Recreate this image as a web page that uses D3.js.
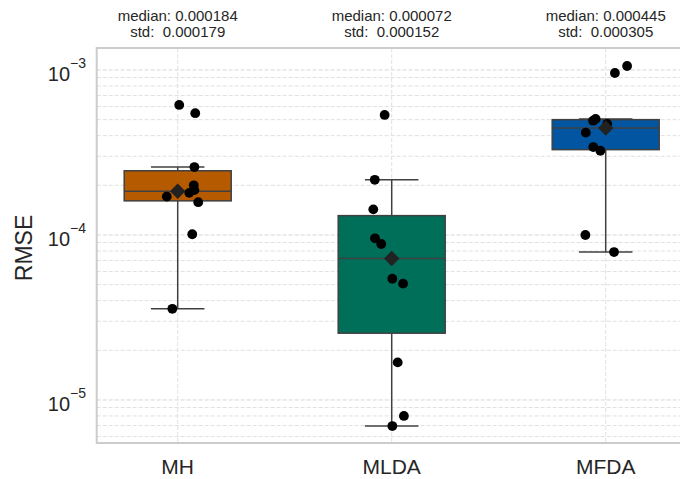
<!DOCTYPE html>
<html>
<head>
<meta charset="utf-8">
<script src="https://cdn.jsdelivr.net/npm/d3@7"></script>
<style>
  body { margin: 0; background: #fff; }
  svg { display: block; font-family: "Liberation Sans", Arial, sans-serif; }
  .pre { white-space: pre; }
</style>
</head>
<body>
<svg id="chart" width="680" height="479"></svg>
<script>
// Methods compared
const categories = ["MH", "MLDA", "MFDA"];
const boxColors = ["#b65a00", "#006f5a", "#0255a0"];

// RMSE of each run, per method
const valuesMH   = [6.14e-4, 5.47e-4, 2.58e-4, 2.00e-4, 1.87e-4, 1.80e-4, 1.71e-4, 1.58e-4, 1.01e-4, 3.57e-5];
const valuesMLDA = [5.34e-4, 2.16e-4, 1.43e-4, 9.55e-5, 8.82e-5, 5.43e-5, 5.07e-5, 1.69e-5, 8.0e-6, 6.95e-6];
const valuesMFDA = [1.057e-3, 9.59e-4, 5.05e-4, 4.93e-4, 4.71e-4, 4.17e-4, 3.41e-4, 3.24e-4, 1.0e-4, 7.88e-5];

// horizontal strip jitter of each run (in category units)
const jitterMH   = [0.007, 0.082, 0.078, 0.075, 0.078, 0.054, -0.051, 0.096, 0.068, -0.025];
const jitterMLDA = [-0.033, -0.079, -0.086, -0.078, -0.049, 0.003, 0.053, 0.028, 0.057, 0.003];
const jitterMFDA = [0.100, 0.043, -0.047, -0.059, 0.007, -0.093, -0.058, -0.025, -0.095, 0.039];

// box summary per method
const q1Values      = [1.61e-4, 2.54e-5, 3.29e-4];
const medianValues  = [0.000184, 0.000072, 0.000445];
const q3Values      = [2.45e-4, 1.31e-4, 5.00e-4];
const whiskerLow    = [3.57e-5, 6.95e-6, 7.88e-5];
const whiskerHigh   = [2.58e-4, 2.16e-4, 5.05e-4];
const stdValues     = [0.000179, 0.000152, 0.000305];

// y axis ticks (log decades)
const yTickExponents = [-3, -4, -5];
const yDomain = [5.486e-6, 1.359e-3];

const series = [
  { values: valuesMH,   jitter: jitterMH },
  { values: valuesMLDA, jitter: jitterMLDA },
  { values: valuesMFDA, jitter: jitterMFDA }
];

const svg = d3.select("#chart");
const plot = { left: 96.7, top: 48, bottom: 443, right: 687 };

const y = d3.scaleLog().domain(yDomain).range([plot.bottom, plot.top]);
const x = d3.scalePoint().domain(categories).range([177.7, 605.7]);
const step = x.step();
const boxW = step * 0.5;
const capW = boxW * 0.5;

// grid: minor + major horizontal lines, dashed
const gridVals = [];
for (let e = -6; e <= -3; e++) {
  for (let m = 1; m <= 9; m++) {
    const v = m * Math.pow(10, e);
    if (v >= yDomain[0] && v <= yDomain[1]) gridVals.push({ v, major: m === 1 });
  }
}
const grid = svg.append("g");
grid.selectAll("line.h").data(gridVals).join("line")
  .attr("x1", plot.left).attr("x2", plot.right)
  .attr("y1", d => y(d.v)).attr("y2", d => y(d.v))
  .attr("stroke", d => d.major ? "#d6d6d6" : "#e0e0e0")
  .attr("stroke-width", 1)
  .attr("stroke-dasharray", "4,2");
grid.selectAll("line.v").data(categories).join("line")
  .attr("x1", d => x(d)).attr("x2", d => x(d))
  .attr("y1", plot.top).attr("y2", plot.bottom)
  .attr("stroke", "#e0e0e0")
  .attr("stroke-width", 1)
  .attr("stroke-dasharray", "4,2");

// frame
svg.append("path")
  .attr("d", `M${plot.right},${plot.top}H${plot.left}V${plot.bottom}H${plot.right}`)
  .attr("fill", "none").attr("stroke", "#cccccc").attr("stroke-width", 2);

// boxes and whiskers
const lineColor = "#404040";
const boxes = svg.append("g");
categories.forEach((c, i) => {
  const cx = x(c);
  const g = boxes.append("g");
  // whiskers
  g.append("line").attr("x1", cx).attr("x2", cx)
    .attr("y1", y(q3Values[i])).attr("y2", y(whiskerHigh[i]))
    .attr("stroke", lineColor).attr("stroke-width", 1.5);
  g.append("line").attr("x1", cx).attr("x2", cx)
    .attr("y1", y(q1Values[i])).attr("y2", y(whiskerLow[i]))
    .attr("stroke", lineColor).attr("stroke-width", 1.5);
  // caps
  [whiskerHigh[i], whiskerLow[i]].forEach(v => {
    g.append("line").attr("x1", cx - capW / 2).attr("x2", cx + capW / 2)
      .attr("y1", y(v)).attr("y2", y(v))
      .attr("stroke", lineColor).attr("stroke-width", 1.5);
  });
  // box
  g.append("rect")
    .attr("x", cx - boxW / 2).attr("width", boxW)
    .attr("y", y(q3Values[i])).attr("height", y(q1Values[i]) - y(q3Values[i]))
    .attr("fill", boxColors[i]).attr("stroke", lineColor).attr("stroke-width", 1.5);
  // median
  g.append("line").attr("x1", cx - boxW / 2).attr("x2", cx + boxW / 2)
    .attr("y1", y(medianValues[i])).attr("y2", y(medianValues[i]))
    .attr("stroke", lineColor).attr("stroke-width", 1.5);
});

// individual runs
const dots = svg.append("g");
series.forEach((s, i) => {
  dots.selectAll(null).data(s.values).join("circle")
    .attr("cx", (d, j) => x(categories[i]) + s.jitter[j] * step)
    .attr("cy", d => y(d))
    .attr("r", 4.9)
    .attr("fill", "#000");
});

// median markers (diamonds)
const diamond = d3.symbol().type(d3.symbolDiamond2).size(150);
svg.append("g").selectAll("path").data(medianValues).join("path")
  .attr("d", diamond)
  .attr("transform", (d, i) => `translate(${x(categories[i])},${y(d)})`)
  .attr("fill", "#222222");

// y tick labels as 10^k
const yLabels = svg.append("g");
yTickExponents.forEach(e => {
  const t = yLabels.append("text")
    .attr("x", 86).attr("y", y(Math.pow(10, e)) + 11.5)
    .attr("text-anchor", "end")
    .attr("fill", "#262626");
  t.append("tspan").attr("font-size", 20).text("10");
  t.append("tspan").attr("font-size", 14).attr("dy", -13.5).text("\u2212" + (-e));
});

// x tick labels
svg.append("g").selectAll("text").data(categories).join("text")
  .attr("x", d => x(d)).attr("y", 474)
  .attr("text-anchor", "middle")
  .attr("font-size", 21)
  .attr("fill", "#262626")
  .text(d => d);

// y axis title
svg.append("text")
  .attr("transform", "translate(32,248) rotate(-90)")
  .attr("text-anchor", "middle")
  .attr("font-size", 23)
  .attr("fill", "#262626")
  .text("RMSE");

// summary annotations above each method
const fmt = d3.format(".6f");
const ann = svg.append("g");
categories.forEach((c, i) => {
  ann.append("text").attr("class", "pre")
    .attr("x", x(c)).attr("y", 21)
    .attr("text-anchor", "middle").attr("font-size", 15).attr("fill", "#262626")
    .text("median: " + fmt(medianValues[i]));
  ann.append("text").attr("class", "pre")
    .attr("x", x(c)).attr("y", 37)
    .attr("text-anchor", "middle").attr("font-size", 15).attr("fill", "#262626")
    .text("std:  " + fmt(stdValues[i]));
});
</script>
</body>
</html>
